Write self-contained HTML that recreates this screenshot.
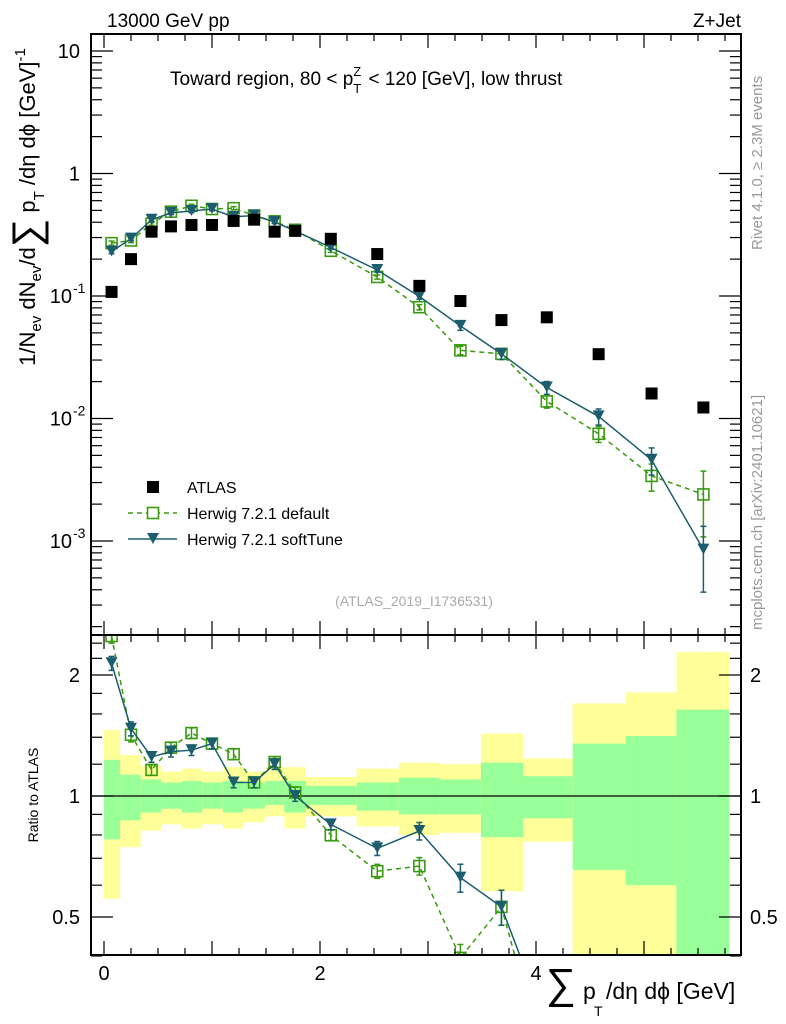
<!DOCTYPE html>
<html><head><meta charset="utf-8">
<style>
html,body{margin:0;padding:0;background:#fff;overflow:hidden;width:786px;height:1024px;}
svg{display:block;font-family:"Liberation Sans",sans-serif;overflow:hidden;}
</style></head>
<body>
<svg id="c" width="786" height="1024" viewBox="0 0 786 1024" xmlns="http://www.w3.org/2000/svg">
<text x="107" y="27" font-size="19">13000 GeV pp</text>
<text x="741" y="27" font-size="19" text-anchor="end">Z+Jet</text>
<text x="170" y="85" font-size="19">Toward region, 80 &lt; p<tspan font-size="13" dy="8">T</tspan><tspan font-size="13" dx="-8" dy="-17">Z</tspan><tspan dy="9" dx="2"> &lt; 120 [GeV], low thrust</tspan></text>
<text transform="translate(762,250) rotate(-90)" font-size="15" fill="#999">Rivet 4.1.0, ≥ 2.3M events</text>
<text transform="translate(762,630) rotate(-90)" font-size="15" fill="#999">mcplots.cern.ch [arXiv:2401.10621]</text>
<text x="414" y="606" font-size="14" fill="#aaa" text-anchor="middle">(ATLAS_2019_I1736531)</text>
<text transform="translate(35,207) rotate(-90)" font-size="22" text-anchor="middle">1/N<tspan font-size="15" dy="6">ev</tspan><tspan dy="-6"> dN</tspan><tspan font-size="15" dy="6">ev</tspan><tspan dy="-6">/d</tspan><tspan font-size="40" dy="5">∑</tspan><tspan dy="-5"> p</tspan><tspan font-size="15" dy="9">T</tspan><tspan dy="-9"> /dη dϕ  [GeV]</tspan><tspan font-size="15" dy="-10">-1</tspan></text>
<text transform="translate(38,795) rotate(-90)" font-size="14" text-anchor="middle">Ratio to ATLAS</text>
<g>
<text x="546" y="998" font-size="42">∑</text>
<text x="583" y="999" font-size="23">p</text>
<text x="594" y="1016" font-size="14">T</text>
<text x="606" y="999" font-size="23">/dη dϕ [GeV]</text>
</g>
<g id="g"></g>
</svg>
<script>
const binEdges=[0,0.15,0.34,0.53,0.72,0.91,1.10,1.29,1.49,1.67,1.87,2.34,2.73,3.11,3.49,3.88,4.34,4.83,5.30,5.79];
const xCenters=[0.07,0.25,0.44,0.62,0.81,1.0,1.2,1.39,1.58,1.77,2.1,2.53,2.92,3.3,3.68,4.1,4.58,5.07,5.55];
const atlasValues=[0.108,0.20,0.335,0.37,0.38,0.38,0.41,0.42,0.335,0.34,0.293,0.22,0.121,0.091,0.0636,0.067,0.0335,0.016,0.0123];
const defaultValues=[0.27,0.284,0.389,0.488,0.545,0.513,0.521,0.454,0.407,0.347,0.234,0.143,0.081,0.036,0.0337,0.0138,0.0075,0.0034,0.0024];
const softValues=[0.231,0.294,0.419,0.477,0.494,0.513,0.443,0.454,0.402,0.34,0.249,0.163,0.099,0.057,0.0337,0.0179,0.0104,0.0046,0.00085];
const mcRelErr=[0.04,0.04,0.03,0.03,0.03,0.03,0.03,0.03,0.03,0.03,0.03,0.04,0.05,0.08,0.10,0.12,0.15,0.25,0.55];
const yellowHi=[1.46,1.265,1.19,1.15,1.17,1.15,1.18,1.15,1.18,1.18,1.115,1.17,1.21,1.20,1.43,1.24,1.70,1.81,2.28];
const greenHi=[1.23,1.13,1.10,1.08,1.09,1.08,1.09,1.08,1.09,1.09,1.06,1.08,1.11,1.10,1.21,1.12,1.35,1.41,1.64];
const greenLo=[0.78,0.87,0.91,0.93,0.91,0.93,0.91,0.93,0.95,0.91,0.95,0.92,0.90,0.90,0.79,0.88,0.655,0.60,0.30];
const yellowLo=[0.555,0.746,0.82,0.85,0.83,0.85,0.83,0.86,0.89,0.83,0.89,0.84,0.80,0.81,0.58,0.77,0.30,0.30,0.30];

const L=91,R=741,T=34,MB=635,RB=955;
const X=v=>104+v*108;
const Y=v=>173.5-122.5*Math.log10(v);
const RY=v=>796-402*Math.log10(v);
const NS="http://www.w3.org/2000/svg";
const g=document.getElementById('g');
function el(t,a,p){const e=document.createElementNS(NS,t);for(const k in a)e.setAttribute(k,a[k]);(p||g).appendChild(e);return e;}

const clipR=el('clipPath',{id:'cr'});el('rect',{x:L,y:MB,width:R-L,height:RB-MB},clipR);
const clipM=el('clipPath',{id:'cm'});el('rect',{x:L,y:T,width:R-L,height:MB-T},clipM);
const bands=el('g',{'clip-path':'url(#cr)'});


for(let i=0;i<xCenters.length;i++){
  const x0=X(binEdges[i]),x1=X(binEdges[i+1]);
  const y=el('rect',{x:x0,y:RY(yellowHi[i]),width:x1-x0,height:RY(yellowLo[i])-RY(yellowHi[i]),fill:'#ffff99'},bands);
  
  
  const gr=el('rect',{x:x0,y:RY(greenHi[i]),width:x1-x0,height:RY(greenLo[i])-RY(greenHi[i]),fill:'#99ff99'},bands);
  
  
}
el('line',{x1:L,x2:R,y1:RY(1),y2:RY(1),stroke:'#000','stroke-width':1.3});

function series(vals,color,dash,marker,yf,clip,name,useRatio){
  const grp=el('g',{'clip-path':clip});
  
  
  const pts=vals.map((v,i)=>[X(xCenters[i]),yf(useRatio?v/atlasValues[i]:v)]);
  el('polyline',{points:pts.map(p=>p.join(',')).join(' '),fill:'none',stroke:color,'stroke-width':1.5,'stroke-dasharray':dash},grp);
  vals.forEach((v,i)=>{
    const c=useRatio?v/atlasValues[i]:v;
    const x=pts[i][0],y=pts[i][1];
    const yl=yf(c*(1-Math.min(mcRelErr[i],0.6))),yh=yf(c*(1+mcRelErr[i]));
    el('line',{x1:x,x2:x,y1:yh,y2:yl,stroke:color,'stroke-width':1.5},grp);
    el('line',{x1:x-3,x2:x+3,y1:yh,y2:yh,stroke:color,'stroke-width':1.5},grp);
    el('line',{x1:x-3,x2:x+3,y1:yl,y2:yl,stroke:color,'stroke-width':1.5},grp);
    let m;
    if(marker==='sq') m=el('rect',{x:x-5.5,y:y-5.5,width:11,height:11,fill:'none',stroke:color,'stroke-width':1.6},grp);
    else m=el('polygon',{points:`${x-6},${y-6} ${x+6},${y-6} ${x},${y+5}`,fill:color},grp);
    
    
  });
}
series(defaultValues,'#3a9a10','5,4','sq',RY,'url(#cr)','herwig-default-ratio',true);
series(softValues,'#1d5e6e','','tri',RY,'url(#cr)','herwig-softtune-ratio',true);
series(defaultValues,'#3a9a10','5,4','sq',Y,'url(#cm)','herwig-default-series',false);
series(softValues,'#1d5e6e','','tri',Y,'url(#cm)','herwig-softtune-series',false);
atlasValues.forEach((v,i)=>{
  const r=el('rect',{x:X(xCenters[i])-6,y:Y(v)-6,width:12,height:12,fill:'#000'});
  
  
});

el('rect',{x:L,y:T,width:R-L,height:MB-T,fill:'none',stroke:'#000','stroke-width':2});
el('rect',{x:L,y:MB,width:R-L,height:RB-MB,fill:'none',stroke:'#000','stroke-width':2});
for(let k=0;k<=5.75;k+=0.25){
  const x=X(k),big=Math.abs(k%1)<1e-6;const len=big?14:7;
  [T,MB].forEach(y0=>el('line',{x1:x,x2:x,y1:y0,y2:y0+len,stroke:'#000','stroke-width':1.2}));
  [MB,RB].forEach(y0=>el('line',{x1:x,x2:x,y1:y0,y2:y0-len,stroke:'#000','stroke-width':1.2}));
}
[0,2,4].forEach(k=>{const t=el('text',{x:X(k),y:980,'font-size':20,'text-anchor':'middle'});t.textContent=k;
 
 });
for(let d=-4;d<=1;d++){for(let m=1;m<10;m++){const v=m*Math.pow(10,d);const y=Y(v);if(y<T||y>MB)continue;
 const len=m===1?22:11;el('line',{x1:L,x2:L+len,y1:y,y2:y,stroke:'#000','stroke-width':1.2});el('line',{x1:R,x2:R-len,y1:y,y2:y,stroke:'#000','stroke-width':1.2});}}
const labs=[[10,'10',''],[1,'1',''],[0.1,'10','-1'],[0.01,'10','-2'],[0.001,'10','-3']];
labs.forEach(([v,b,e])=>{const t=el('text',{x:e?72:80,y:Y(v)+7,'font-size':20,'text-anchor':'end'});t.textContent=b;
 
 
 if(e){const s=el('text',{x:73,y:Y(v)-3,'font-size':14});s.textContent=e;}});
for(const v of [0.4,0.5,0.6,0.7,0.8,0.9,1,1.2,1.4,1.6,1.8,2,2.2,2.4]){const y=RY(v);const big=(v===0.5||v===1||v===2);const len=big?22:11;
 el('line',{x1:L,x2:L+len,y1:y,y2:y,stroke:'#000','stroke-width':1.2});el('line',{x1:R,x2:R-len,y1:y,y2:y,stroke:'#000','stroke-width':1.2});}
[[2,'2'],[1,'1'],[0.5,'0.5']].forEach(([v,s])=>{
 const a=el('text',{x:80,y:RY(v)+7,'font-size':20,'text-anchor':'end'});a.textContent=s;
 
 
 const b=el('text',{x:750,y:RY(v)+7,'font-size':20});b.textContent=s;
 
 });
const lg=el('g',{});


el('rect',{x:147,y:481,width:12,height:12,fill:'#000'},lg);
el('line',{x1:128,x2:177,y1:513,y2:513,stroke:'#3a9a10','stroke-width':1.5,'stroke-dasharray':'5,4'},lg);
el('rect',{x:147.5,y:507.5,width:11,height:11,fill:'#fff',stroke:'#3a9a10','stroke-width':1.6},lg);
el('line',{x1:128,x2:177,y1:539,y2:539,stroke:'#1d5e6e','stroke-width':1.5},lg);
el('polygon',{points:'147,533 159,533 153,544',fill:'#1d5e6e'},lg);
[['ATLAS',493],['Herwig 7.2.1 default',519],['Herwig 7.2.1 softTune',545]].forEach(([s,y])=>{const t=el('text',{x:187,y:y,'font-size':16},lg);t.textContent=s;
 
 });
</script>
</body></html>
